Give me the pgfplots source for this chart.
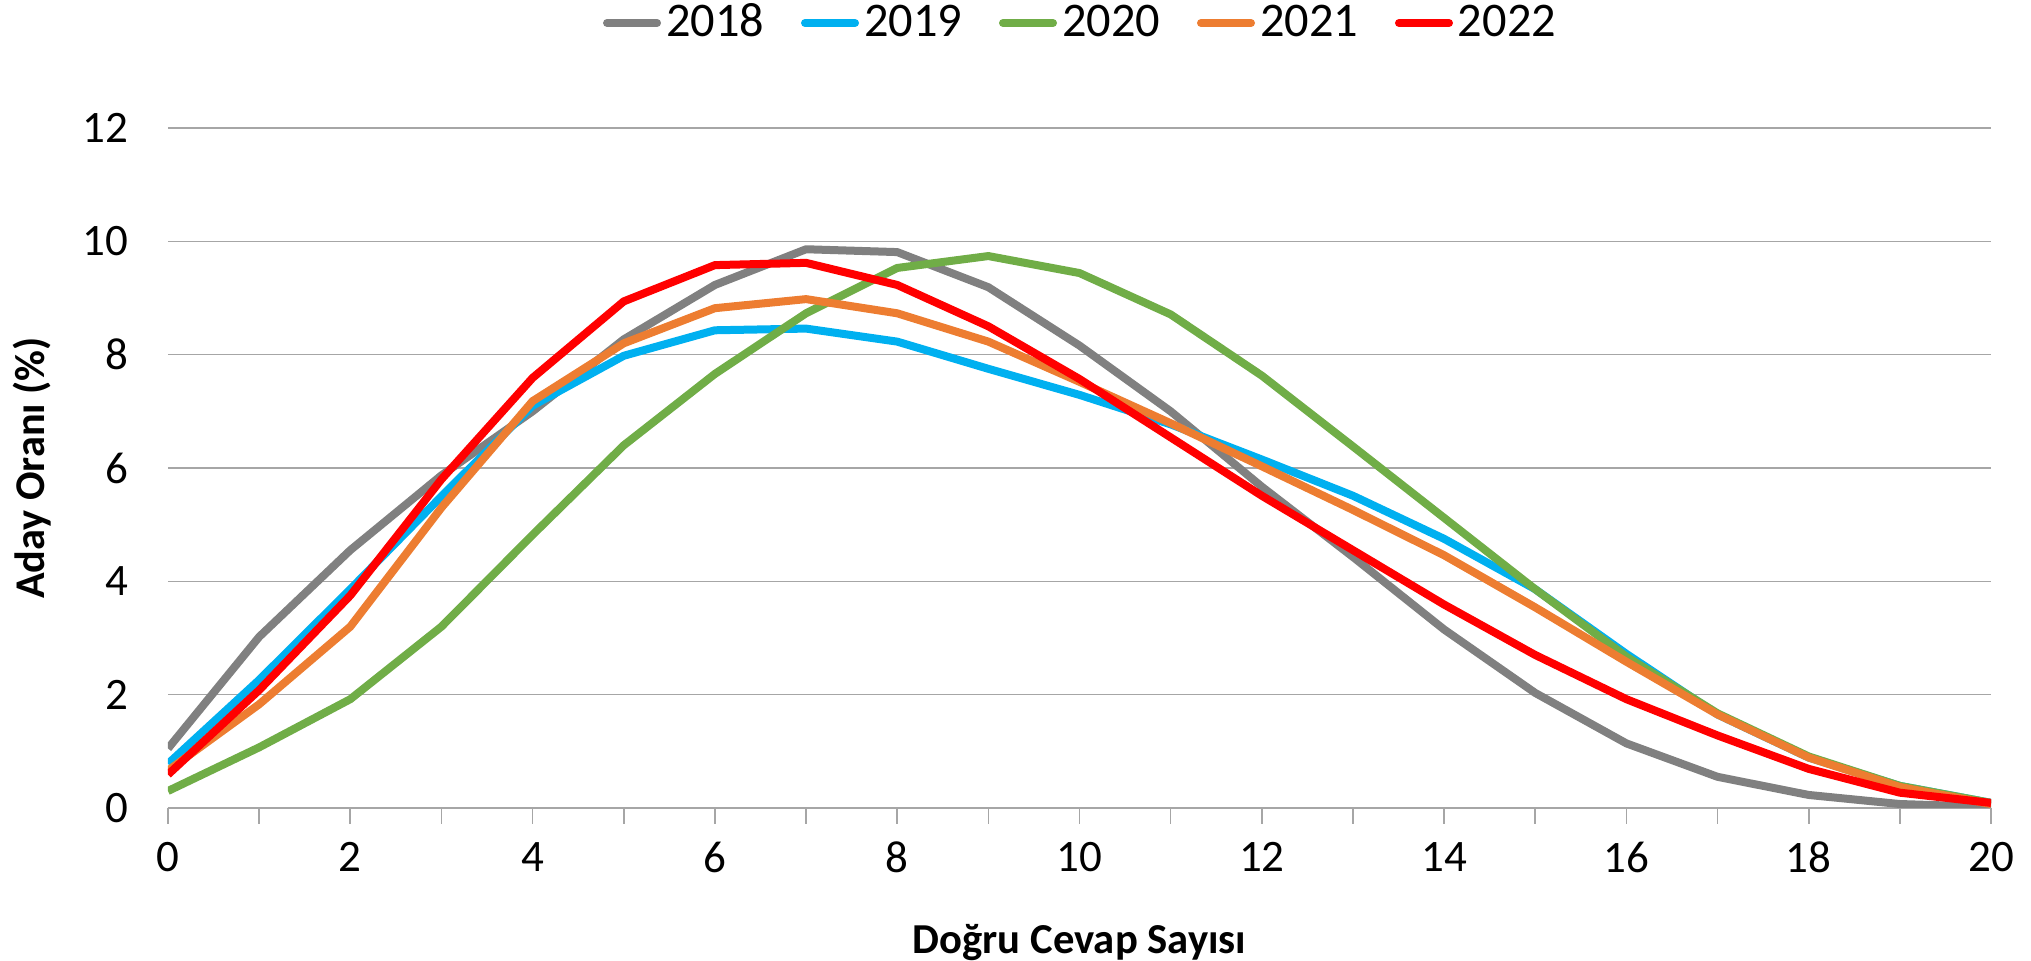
\documentclass[border=0pt]{standalone}
\usepackage{pgfplots}
\pgfplotsset{compat=1.18}
\usepackage{fontspec}
\setmainfont{Carlito}
\definecolor{c18}{HTML}{808080}
\definecolor{c19}{HTML}{00B0F0}
\definecolor{c20}{HTML}{70AD47}
\definecolor{c21}{HTML}{ED7D31}
\definecolor{c22}{HTML}{FF0000}
\definecolor{gridc}{HTML}{A6A6A6}
\begin{document}
\begin{tikzpicture}
\useasboundingbox (-50.4pt,-45.9pt) rectangle (558.9pt,242.4pt);
\begin{axis}[
  scale only axis,
  width=546.9pt, height=204pt,
  at={(0,0)}, anchor=south west,
  xmin=0, xmax=20, ymin=0, ymax=12,
  xtick={0,2,...,20}, minor xtick={1,3,...,19},
  ytick={0,2,...,12},
  axis lines*=left,
  x axis line style={draw=gridc, line width=0.6pt, -},
  y axis line style={draw=none},
  ytick style={draw=none},
  xtick style={draw=gridc, line width=0.5pt},
  minor tick style={draw=gridc, line width=0.5pt},
  tick align=outside,
  major tick length=4.7pt, minor tick length=4.7pt,
  ymajorgrids,
  grid style={draw=gridc, line width=0.45pt},
  /pgf/number format/assume math mode=true,
  tick label style={font=\fontsize{13.5}{15}\selectfont},
  xticklabel style={yshift=-2pt},
  yticklabel style={xshift=-3.6pt},
  xlabel={\textbf{Doğru Cevap Sayısı}},
  ylabel={\textbf{Aday Oranı (\%)}},
  every axis x label/.style={at={(axis description cs:0.5,0)}, yshift=-40.5pt, anchor=center, font=\fontsize{12.8}{15}\selectfont},
  every axis y label/.style={at={(axis description cs:0,0.5)}, xshift=-40.8pt, rotate=90, anchor=center, font=\fontsize{12.7}{15}\selectfont},
  legend columns=5,
  legend style={at={(axis description cs:0.5,1)}, yshift=31.5pt, anchor=center, draw=none,
    font=\fontsize{14.5}{16}\selectfont, column sep=0pt,
    nodes={inner sep=0pt},
    /tikz/every odd column/.append style={column sep=1.5pt},
    /tikz/every even column/.append style={column sep=11.1pt}},
  legend image code/.code={\draw[#1, line width=2.4pt, line cap=round] (1.2pt,0pt) -- (16.2pt,0pt);},
  every axis plot/.append style={line width=2.4pt, line join=round, mark=none},
]
\addplot[c18] coordinates {(0,1.05)(1,3.02)(2,4.55)(3,5.87)(4,7.0)(5,8.27)(6,9.23)(7,9.86)(8,9.81)(9,9.19)(10,8.16)(11,7.0)(12,5.67)(13,4.43)(14,3.15)(15,2.03)(16,1.14)(17,0.55)(18,0.23)(19,0.07)(20,0.02)};
\addlegendentry{2018}
\addplot[c19] coordinates {(0,0.78)(1,2.26)(2,3.86)(3,5.5)(4,7.1)(5,7.98)(6,8.43)(7,8.46)(8,8.23)(9,7.75)(10,7.29)(11,6.77)(12,6.15)(13,5.51)(14,4.75)(15,3.86)(16,2.72)(17,1.65)(18,0.89)(19,0.39)(20,0.09)};
\addlegendentry{2019}
\addplot[c20] coordinates {(0,0.3)(1,1.07)(2,1.92)(3,3.2)(4,4.82)(5,6.4)(6,7.66)(7,8.73)(8,9.53)(9,9.74)(10,9.44)(11,8.71)(12,7.63)(13,6.38)(14,5.12)(15,3.86)(16,2.67)(17,1.67)(18,0.91)(19,0.39)(20,0.09)};
\addlegendentry{2020}
\addplot[c21] coordinates {(0,0.66)(1,1.83)(2,3.2)(3,5.3)(4,7.18)(5,8.2)(6,8.82)(7,8.98)(8,8.73)(9,8.23)(10,7.52)(11,6.79)(12,6.03)(13,5.26)(14,4.46)(15,3.54)(16,2.58)(17,1.65)(18,0.89)(19,0.37)(20,0.07)};
\addlegendentry{2021}
\addplot[c22] coordinates {(0,0.59)(1,2.08)(2,3.75)(3,5.8)(4,7.59)(5,8.94)(6,9.58)(7,9.62)(8,9.23)(9,8.5)(10,7.57)(11,6.54)(12,5.51)(13,4.55)(14,3.59)(15,2.7)(16,1.92)(17,1.28)(18,0.69)(19,0.27)(20,0.09)};
\addlegendentry{2022}
\end{axis}
\end{tikzpicture}
\end{document}
